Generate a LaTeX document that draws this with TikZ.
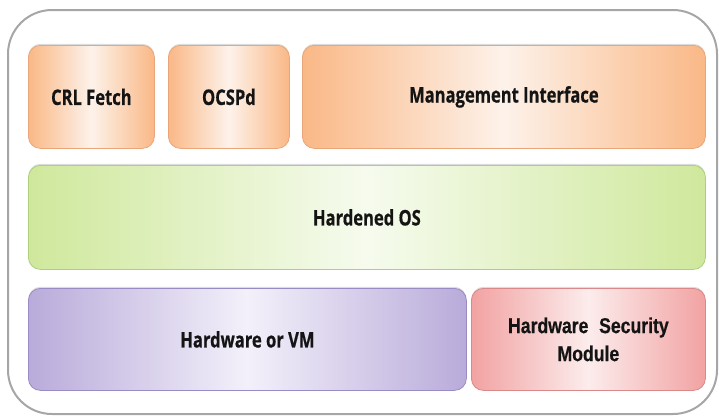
\documentclass[tikz,border=0pt]{standalone}
\usepackage{fontspec}
\usetikzlibrary{shadows}
\newfontfamily\lblfont[FakeStretch=0.77, BoldFeatures={FakeBold=0.6}]{Open Sans}
\newfontfamily\hsmfont[FakeStretch=0.82, BoldFeatures={FakeBold=0.5}]{Liberation Sans}
\definecolor{orEdge}{HTML}{FAB886}
\definecolor{orMid}{HTML}{FDF2EA}
\definecolor{orLine}{HTML}{E9A67A}
\definecolor{grEdge}{HTML}{CFE89C}
\definecolor{grMid}{HTML}{F6FBEE}
\definecolor{grLine}{HTML}{AECF7E}
\definecolor{puEdge}{HTML}{B9ABDA}
\definecolor{puMid}{HTML}{F3F0FA}
\definecolor{puLine}{HTML}{998BC3}
\definecolor{reEdge}{HTML}{F2A2A2}
\definecolor{reMid}{HTML}{FCECEC}
\definecolor{reLine}{HTML}{D98989}
\definecolor{frameGray}{HTML}{A6A6A6}
\tikzset{
  layer/.style={draw=#1Line, line width=0.8pt, rounded corners=12pt,
    left color=#1Edge, right color=#1Edge, middle color=#1Mid,
    drop shadow={shadow xshift=0pt, shadow yshift=1.6pt, opacity=0.28},
    anchor=north west, inner sep=0pt, text=black!92,
    font=\lblfont\bfseries\fontsize{21.5}{25}\selectfont},
  outerbox/.style={draw=frameGray, line width=2pt, rounded corners=44pt,
    anchor=north west, inner sep=0pt}
}
\begin{document}
\begin{tikzpicture}[x=1pt,y=-1pt]
\useasboundingbox (0,0) rectangle (719,415);
\node[outerbox, minimum width=709pt, minimum height=404pt] (frame) at (7,9) {};
\node[layer=or, minimum width=126pt, minimum height=103pt] (crl) at (28,45) {CRL Fetch};
\node[layer=or, minimum width=121pt, minimum height=103pt] (ocsp) at (168,45) {OCSPd};
\node[layer=or, minimum width=403pt, minimum height=103pt] (mgmt) at (302,45) {Management Interface};
\node[layer=gr, minimum width=677pt, minimum height=104pt] (os) at (28,165) {Hardened OS};
\node[layer=pu, minimum width=438pt, minimum height=102pt] (hw) at (28,288) {Hardware or VM};
\node[layer=re, minimum width=234pt, minimum height=102pt, align=center,
  font=\hsmfont\bfseries\fontsize{21.5}{28}\selectfont] (hsm) at (471,288)
  {Hardware\hspace{0.5em}Security\\Module};
\end{tikzpicture}
\end{document}
